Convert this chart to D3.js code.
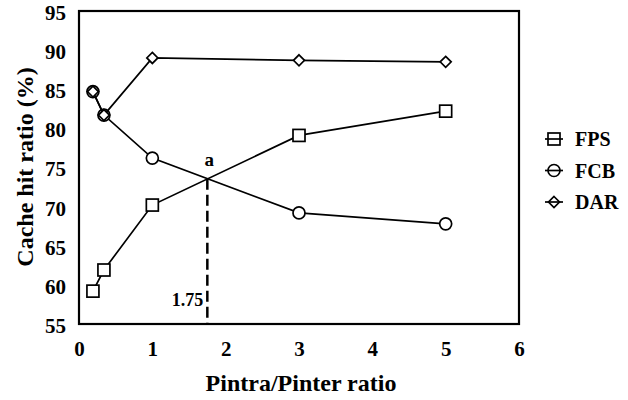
<!DOCTYPE html>
<html>
<head>
<meta charset="utf-8">
<script src="https://cdn.jsdelivr.net/npm/d3@7"></script>
<style>
  html, body { margin: 0; padding: 0; background: #fff; }
</style>
</head>
<body>
<svg id="chart" width="628" height="400" font-family="Liberation Serif" font-weight="bold"></svg>
<script>
// Pintra/Pinter ratio at each measurement
const ratios = [0.19, 0.34, 1, 3, 5];
// Cache hit ratio (%) per scheme
const fps = [59.2, 61.9, 70.2, 79.1, 82.2];
const fcb = [84.7, 81.7, 76.2, 69.2, 67.8];
const dar = [84.7, 81.7, 89.0, 88.7, 88.5];
const seriesNames = ["FPS", "FCB", "DAR"];
const xTicks = [0, 1, 2, 3, 4, 5, 6];
const yTicks = [55, 60, 65, 70, 75, 80, 85, 90, 95];
// crossover point of FPS and FCB
const crossX = 1.75;
const crossLabel = "a";

const FONT = "Liberation Serif, Times New Roman, serif";
const svg = d3.select("#chart");
const plotLeft = 79, plotRight = 519, plotTop = 11, plotBottom = 324;

const x = d3.scaleLinear().domain([0, 6]).range([plotLeft, plotRight]);
const y = d3.scaleLinear().domain([55, 95]).range([plotBottom, plotTop]);

const label = (sel, size) => sel
  .attr("font-family", FONT).attr("font-weight", "bold")
  .attr("font-size", size).attr("fill", "#000");

// frame
svg.append("rect")
  .attr("x", plotLeft).attr("y", plotTop)
  .attr("width", plotRight - plotLeft).attr("height", plotBottom - plotTop)
  .attr("fill", "none").attr("stroke", "#000").attr("stroke-width", 2.2);

// axes (labels only; the frame draws the lines)
const xAxis = svg.append("g").attr("transform", `translate(0,${plotBottom})`)
  .call(d3.axisBottom(x).tickValues(xTicks).tickSize(0).tickFormat(d3.format("d")));
xAxis.select(".domain").remove();
xAxis.attr("font-family", null).attr("font-size", null);
xAxis.selectAll("text").call(label, 21).attr("y", 32).attr("dy", 0);

const yAxis = svg.append("g").attr("transform", `translate(${plotLeft},0)`)
  .call(d3.axisLeft(y).tickValues(yTicks).tickSize(0).tickPadding(13).tickFormat(d3.format("d")));
yAxis.select(".domain").remove();
yAxis.attr("font-family", null).attr("font-size", null);
yAxis.selectAll("text").call(label, 21).attr("dy", "0.4em");

// axis titles
svg.append("text")
  .attr("x", 301).attr("y", 391)
  .attr("text-anchor", "middle")
  .call(label, 24)
  .text("Pintra/Pinter ratio");

svg.append("text")
  .attr("transform", "translate(33,167) rotate(-90)")
  .attr("text-anchor", "middle")
  .call(label, 24)
  .text("Cache hit ratio (%)");

// crossover marker: dashed drop line
const interp = (xs, ys, v) => {
  const i = d3.bisectRight(xs, v) - 1;
  const t = (v - xs[i]) / (xs[i + 1] - xs[i]);
  return ys[i] + t * (ys[i + 1] - ys[i]);
};
const crossY = (interp(ratios, fps, crossX) + interp(ratios, fcb, crossX)) / 2;

svg.append("line")
  .attr("x1", x(crossX)).attr("x2", x(crossX))
  .attr("y1", y(crossY)).attr("y2", plotBottom)
  .attr("stroke", "#000").attr("stroke-width", 2.5)
  .attr("stroke-dasharray", "11,5");

svg.append("text")
  .attr("x", x(crossX) + 2).attr("y", y(crossY) - 13)
  .attr("text-anchor", "middle")
  .call(label, 19)
  .text(crossLabel);

svg.append("text")
  .attr("x", x(crossX) - 4).attr("y", 306)
  .attr("text-anchor", "end")
  .call(label, 18)
  .text(d3.format(".2f")(crossX));

// series lines and markers
const line = d3.line().x(d => x(d[0])).y(d => y(d[1]));
const seriesData = [fps, fcb, dar].map(vals => ratios.map((r, i) => [r, vals[i]]));

const markers = {
  FPS: g => g.append("rect").attr("x", -6).attr("y", -6).attr("width", 12).attr("height", 12),
  FCB: g => g.append("circle").attr("r", 6),
  DAR: g => g.append("path").attr("d", "M0,-5.5L5.5,0L0,5.5L-5.5,0Z")
};

seriesData.forEach((pts, si) => {
  const name = seriesNames[si];
  svg.append("path")
    .datum(pts)
    .attr("d", line)
    .attr("fill", "none").attr("stroke", "#000").attr("stroke-width", 1.7);
  svg.append("g").selectAll("g")
    .data(pts)
    .join("g")
    .attr("transform", d => `translate(${x(d[0])},${y(d[1])})`)
    .each(function () {
      markers[name](d3.select(this))
        .attr("fill", "#fff").attr("stroke", "#000").attr("stroke-width", 1.7);
    });
});

// legend
const legend = svg.append("g");
seriesNames.forEach((name, i) => {
  const gy = 139 + i * 31.5;
  const g = legend.append("g").attr("transform", `translate(554,${gy})`);
  g.append("line").attr("x1", -9).attr("x2", 9).attr("stroke", "#000").attr("stroke-width", 1.7);
  markers[name](g).attr("fill", "none").attr("stroke", "#000").attr("stroke-width", 1.7);
  legend.append("text")
    .attr("x", 575).attr("y", gy)
    .attr("dy", "0.35em")
    .call(label, 20)
    .text(name);
});
</script>
</body>
</html>
